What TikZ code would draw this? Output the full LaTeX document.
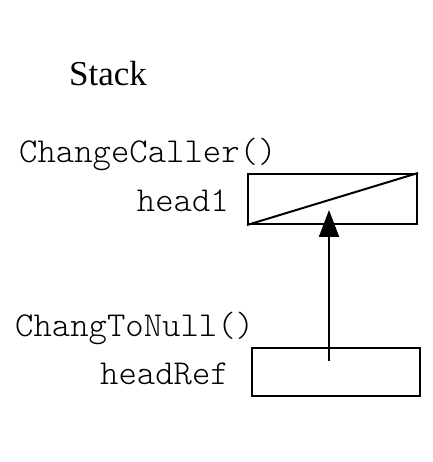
\documentclass[tikz,border=0pt]{standalone}
\usepackage{fontspec}
\setmainfont{Liberation Serif}
\setmonofont{Latin Modern Mono Light}
\usetikzlibrary{arrows.meta}
\begin{document}
\begin{tikzpicture}[x=1pt,y=1pt,
  lbl/.style={font=\fontsize{35}{35}\selectfont\ttfamily, inner sep=0pt},
  cell/.style={draw, line width=2pt, inner sep=0pt},
  ptr/.style={line width=2pt, -{Triangle[length=27pt,width=20pt]}}]
\useasboundingbox (0,0) rectangle (432,462);
\node[anchor=base west, inner sep=0pt, font=\fontsize{35}{35}\selectfont] (stack) at (69,376) {Stack};
\node[lbl, anchor=base west] (cc) at (19,299) {ChangeCaller()};
\node[lbl, anchor=base east] (h1) at (229,250) {head1};
\node[lbl, anchor=base west] (ctn) at (15,125) {ChangToNull()};
\node[lbl, anchor=base east] (hr) at (229,77) {headRef};
\node[cell, minimum width=169pt, minimum height=50pt] (box1) at (332.5,263) {};
\node[cell, minimum width=168pt, minimum height=48pt] (box2) at (336,90) {};
\draw[line width=2pt] (box1.south west) -- (box1.north east);
\coordinate (src) at (329,101);
\coordinate (dst) at (329,252);
\draw[ptr] (src) -- (dst);
\end{tikzpicture}
\end{document}
